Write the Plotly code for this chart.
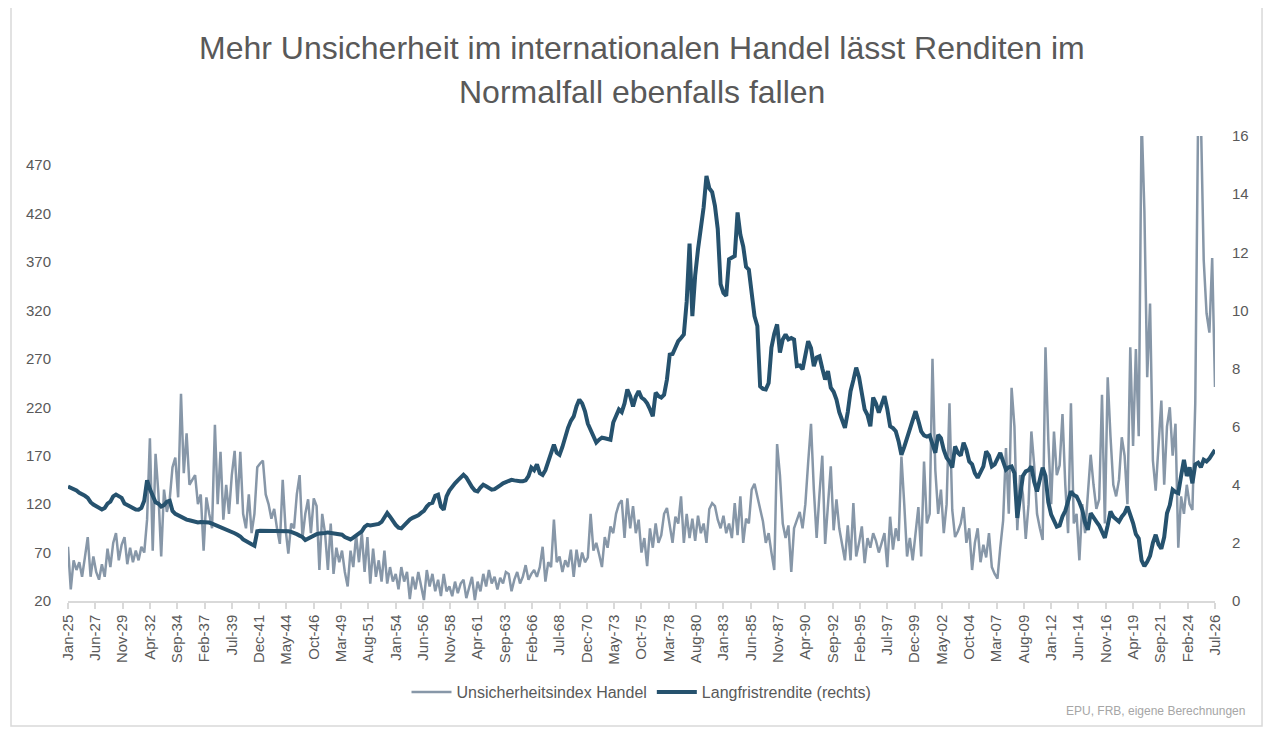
import pandas as pd
import plotly.graph_objects as go

# quarterly values, Jan-1925 .. Jul-2026
uncertainty = [
    76, 32, 62, 52,  60, 45, 65, 86,  45, 66, 50, 42,  58, 45, 74, 55,  80, 90, 62, 78,      # 1925-29
    86, 58, 75, 60,  72, 62, 76, 70,  104, 188, 72, 172,  131, 66, 135, 112,  125, 158, 168, 127,  # 1930-34
    234, 152, 193, 140,  145, 150, 120, 130,  72, 127, 110, 95,  202, 120, 174, 104,  140, 110, 150, 175,  # 1935-39
    120, 174, 110, 95,  130, 90, 110, 158,  162, 165, 130, 120,  105, 115, 95, 79,  145, 95, 69, 100,  # 1940-44
    95, 130, 150, 85,  110, 125, 90, 126,  118, 52, 110, 90,  52, 100, 48, 75,  60, 72, 50, 35,  # 1945-49
    72, 55, 88, 60,  90, 50, 86, 38,  74, 45, 62, 40,  72, 38, 55, 40,  48, 32, 55, 40,  # 1950-54
    50, 22, 45, 32,  50, 35, 21, 52,  35, 48, 30, 42,  25, 48, 30, 35,  25, 40, 28, 38,  # 1955-59
    42, 23, 35, 45,  21, 40, 30, 48,  35, 52, 38, 45,  32, 44, 38, 50,  48, 30, 42, 50,  # 1960-64
    38, 45, 57, 42,  48, 52, 45, 55,  76, 40, 60, 55,  104, 60, 66, 50,  62, 55, 73, 45,  # 1965-69
    73, 55, 70, 60,  65, 110, 72, 80,  68, 55, 86, 75,  97, 90, 110, 120,  124, 85, 126, 95,  # 1970-74
    118, 90, 104, 70,  85, 56, 95, 75,  100, 80, 88, 110,  116, 98, 80, 107,  100, 128, 80, 110,  # 1975-79
    85, 105, 82, 108,  90, 100, 80, 115,  121, 118, 104, 95,  108, 90, 100, 85,  121, 88, 128, 80,  # 1980-84
    105, 100, 135, 141,  128, 115, 102, 80,  90, 70, 52, 182,  150, 100, 85, 98,  50, 95, 104, 112,  # 1985-89
    95, 120, 163, 203,  135, 85, 130, 170,  79, 120, 159, 93,  125, 95, 80, 62,  98, 62, 121, 66,  # 1990-94
    80, 97, 59, 85,  75, 90, 82, 70,  80, 90, 55, 107,  73, 95, 82, 169,  120, 66, 85, 62,  # 1995-99
    90, 117, 66, 164,  100, 110, 270, 155,  110, 135, 90, 120,  224, 114, 86, 92,  100, 117, 80, 95,  # 2000-04
    52, 80, 95, 60,  78, 65, 90, 55,  48, 43, 75, 103,  178, 110, 240, 200,  93, 150, 130, 84,  # 2005-09
    120, 195, 160, 110,  95, 83, 282, 186,  120, 195, 150, 160,  213, 140, 90, 224,  100, 110, 62, 120,  # 2010-14
    90, 135, 171, 140,  115, 125, 233, 100,  251, 190, 140, 128,  145, 189, 170, 120,  282, 180, 280, 190,  # 2015-19
    520, 423, 251, 327,  165, 134, 180, 227,  140, 200, 220, 170,  203, 75, 128, 110,  140, 120, 114, 224,  # 2020-24
    520, 520, 372, 317,  297, 374, 241,  # 2025-26
]

long_yield = [
    3.94, 3.90, 3.83, 3.80,  3.72, 3.68, 3.62, 3.55,  3.40, 3.32, 3.25, 3.20,  3.15, 3.20, 3.35, 3.42,  3.60, 3.66, 3.62, 3.55,  # 1925-29
    3.35, 3.30, 3.22, 3.20,  3.15, 3.14, 3.20, 3.45,  4.15, 3.85, 3.60, 3.40,  3.35, 3.25, 3.30, 3.42,  3.45, 3.10, 3.00, 2.95,  # 1930-34
    2.88, 2.82, 2.80, 2.78,  2.75, 2.72, 2.70, 2.72,  2.72, 2.73, 2.70, 2.66,  2.62, 2.58, 2.55, 2.50,  2.48, 2.42, 2.38, 2.33,  # 1935-39
    2.28, 2.22, 2.12, 2.05,  2.00, 1.95, 1.90, 2.40,  2.42, 2.42, 2.42, 2.42,  2.42, 2.42, 2.42, 2.42,  2.42, 2.42, 2.40, 2.38,  # 1940-44
    2.35, 2.30, 2.25, 2.20,  2.10, 2.15, 2.22, 2.26,  2.30, 2.32, 2.32, 2.34,  2.36, 2.34, 2.34, 2.32,  2.30, 2.28, 2.20, 2.15,  # 1945-49
    2.12, 2.18, 2.25, 2.30,  2.40, 2.55, 2.62, 2.60,  2.62, 2.62, 2.65, 2.72,  2.85, 3.03, 2.90, 2.75,  2.62, 2.52, 2.50, 2.60,  # 1950-54
    2.72, 2.80, 2.86, 2.90,  2.95, 3.03, 3.10, 3.25,  3.35, 3.38, 3.62, 3.66,  3.25, 3.14, 3.60, 3.80,  3.95, 4.05, 4.15, 4.25,  # 1955-59
    4.34, 4.25, 4.05, 3.92,  3.80, 3.77, 3.90, 4.00,  3.95, 3.88, 3.83, 3.85,  3.90, 3.98, 4.05, 4.10,  4.15, 4.17, 4.15, 4.12,  # 1960-64
    4.12, 4.12, 4.15, 4.30,  4.59, 4.50, 4.70, 4.40,  4.34, 4.50, 4.80, 5.10,  5.38, 5.10, 5.03, 5.30,  5.70, 5.96, 6.20, 6.35,  # 1965-69
    6.70, 6.93, 6.80, 6.53,  6.10, 5.90, 5.70, 5.45,  5.55, 5.62, 5.60, 5.58,  5.55, 6.14, 6.40, 6.59,  6.50, 6.80, 7.28, 7.05,  # 1970-74
    6.69, 7.03, 7.22, 7.00,  6.93, 6.80, 6.60, 6.36,  7.17, 7.05, 7.00, 7.10,  7.62, 8.48, 8.50, 8.70,  8.94, 9.05, 9.17, 10.30,  # 1975-79
    12.30, 9.80, 11.20, 12.10,  12.86, 13.55, 14.63, 14.20,  14.07, 13.60, 12.80, 10.90,  10.60, 10.50, 11.76, 11.80,  11.87, 13.37, 12.60, 12.20,  # 1980-84
    11.50, 11.40, 10.60, 9.80,  9.46, 7.39, 7.30, 7.28,  7.50, 8.72, 9.20, 9.52,  8.55, 9.00, 9.17, 9.00,  9.05, 9.00, 8.08, 8.10,  # 1985-89
    7.97, 8.40, 8.94, 8.70,  8.08, 8.38, 8.42, 8.00,  7.62, 7.91, 7.34, 7.20,  6.93, 6.50, 6.20, 5.96,  6.50, 7.22, 7.60, 8.03,  # 1990-94
    7.70, 7.10, 6.59, 6.40,  6.01, 7.00, 6.80, 6.48,  6.80, 7.05, 6.60, 6.01,  5.95, 5.84, 5.50, 5.03,  5.30, 5.60, 5.96, 6.20,  # 1995-99
    6.53, 6.20, 5.84, 5.70,  5.66, 5.70, 5.40, 5.10,  5.72, 5.60, 5.20, 4.93,  4.80, 4.59, 5.32, 5.10,  5.00, 5.45, 5.20, 4.80,  # 2000-04
    4.70, 4.40, 4.24, 4.45,  4.63, 5.15, 5.00, 4.63,  4.70, 4.90, 5.10, 4.80,  4.52, 4.60, 4.63, 4.40,  2.86, 3.60, 4.30, 4.46,  # 2005-09
    4.50, 4.63, 4.10, 3.77,  4.20, 4.59, 4.30, 3.40,  2.97, 2.80, 2.56, 2.60,  2.91, 3.10, 3.50, 3.77,  3.65, 3.60, 3.40, 3.14,  # 2010-14
    2.70, 2.45, 3.02, 2.90,  2.73, 2.60, 2.39, 2.17,  2.60, 3.08, 2.90, 2.80,  2.73, 2.90, 3.02, 3.25,  3.00, 2.68, 2.30, 2.15,  # 2015-19
    1.40, 1.20, 1.35, 1.55,  2.00, 2.28, 1.95, 1.80,  2.20, 3.02, 3.30, 3.83,  3.75, 3.71, 4.30, 4.86,  4.30, 4.60, 4.05, 4.70,  # 2020-24
    4.76, 4.60, 4.86, 4.80,  4.90, 5.05, 5.20,  # 2025-26
]

tick_months = ["1925-01", "1927-06", "1929-11", "1932-04", "1934-09", "1937-02", "1939-07",
               "1941-12", "1944-05", "1946-10", "1949-03", "1951-08", "1954-01", "1956-06",
               "1958-11", "1961-04", "1963-09", "1966-02", "1968-07", "1970-12", "1973-05",
               "1975-10", "1978-03", "1980-08", "1983-01", "1985-06", "1987-11", "1990-04",
               "1992-09", "1995-02", "1997-07", "1999-12", "2002-05", "2004-10", "2007-03",
               "2009-08", "2012-01", "2014-06", "2016-11", "2019-04", "2021-09", "2024-02",
               "2026-07"]
tick_labels = ["Jan-25", "Jun-27", "Nov-29", "Apr-32", "Sep-34", "Feb-37", "Jul-39",
               "Dec-41", "May-44", "Oct-46", "Mar-49", "Aug-51", "Jan-54", "Jun-56",
               "Nov-58", "Apr-61", "Sep-63", "Feb-66", "Jul-68", "Dec-70", "May-73",
               "Oct-75", "Mar-78", "Aug-80", "Jan-83", "Jun-85", "Nov-87", "Apr-90",
               "Sep-92", "Feb-95", "Jul-97", "Dec-99", "May-02", "Oct-04", "Mar-07",
               "Aug-09", "Jan-12", "Jun-14", "Nov-16", "Apr-19", "Sep-21", "Feb-24",
               "Jul-26"]

title_lines = ["Mehr Unsicherheit im internationalen Handel lässt Renditen im",
               "Normalfall ebenfalls fallen"]

dates = pd.date_range("1925-01-01", periods=len(long_yield), freq="QS-JAN")

TXT = "#595959"
FONT = "Liberation Sans, Arial, sans-serif"

fig = go.Figure()
fig.add_trace(go.Scatter(x=dates, y=uncertainty, mode="lines", name="Unsicherheitsindex Handel",
                         line=dict(color="#8797A8", width=2.5)))
fig.add_trace(go.Scatter(x=dates, y=long_yield, mode="lines", name="Langfristrendite (rechts)",
                         line=dict(color="#26526E", width=4), yaxis="y2"))

fig.update_layout(
    width=1264, height=724,
    margin=dict(l=60, r=57, t=128, b=131),
    paper_bgcolor="white", plot_bgcolor="white",
    font=dict(family=FONT, color=TXT, size=15),
    xaxis=dict(type="date", range=["1925-01-01", "2026-07-01"],
               tickvals=pd.to_datetime(tick_months), ticktext=tick_labels, tickangle=-90,
               showgrid=False, showline=True, linecolor="#D9D9D9", linewidth=1.5,
               ticks="outside", ticklen=6, tickcolor="#D9D9D9", tickwidth=1.5,
               tickfont=dict(size=15, color=TXT)),
    yaxis=dict(range=[20, 500], tickvals=list(range(20, 471, 50)), showgrid=False,
               zeroline=False, showline=False, ticklabelstandoff=16,
               tickfont=dict(size=15, color=TXT)),
    yaxis2=dict(range=[0, 16], dtick=2, overlaying="y", side="right", showgrid=False,
                zeroline=False, showline=False, ticklabelstandoff=16,
                tickfont=dict(size=15, color=TXT)),
    legend=dict(orientation="h", x=0.5, xanchor="center", y=-0.196, yanchor="middle",
                font=dict(size=16, color=TXT), itemwidth=40),
    showlegend=True,
    hovermode=False,
)

# two-line title, placed as annotations to get the wider line spacing
for txt, yy in zip(title_lines, [1.189, 1.095]):
    fig.add_annotation(text=txt, xref="paper", yref="paper", x=0.5, y=yy,
                       xanchor="center", yanchor="middle", showarrow=False,
                       font=dict(size=32, color=TXT, family=FONT))

# chart frame
fig.add_shape(type="rect", xref="paper", yref="paper", x0=-0.0497, x1=1.041, y0=-0.269, y1=1.286,
              line=dict(color="#D9D9D9", width=1.5), layer="below")

fig.add_annotation(text="EPU, FRB, eigene Berechnungen", xref="paper", yref="paper",
                   x=1.0279, y=-0.237, xanchor="right", yanchor="middle", showarrow=False,
                   font=dict(size=12, color="#A6A6A6"))

fig.write_html("out.html")
